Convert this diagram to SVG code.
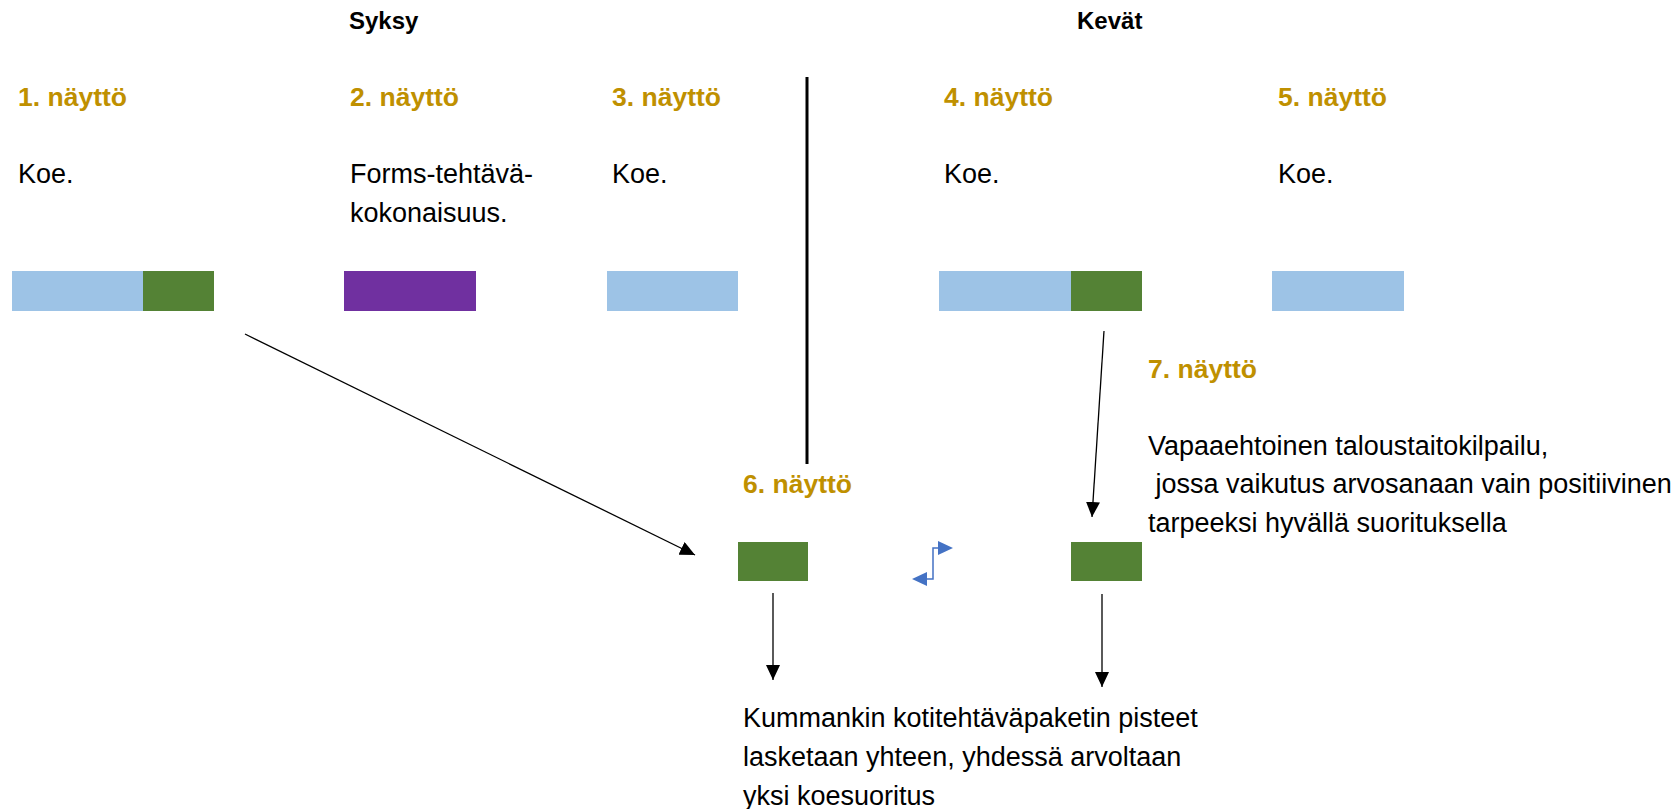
<svg xmlns="http://www.w3.org/2000/svg" width="1675" height="809" viewBox="0 0 1675 809">
<style>
text{font-family:"Liberation Sans",Arial,sans-serif;}
.hdr{font-size:24px;font-weight:bold;fill:#000;}
.lbl{font-size:26.5px;font-weight:bold;fill:#BF9000;}
.txt{font-size:27px;fill:#000;}
.lb{fill:#9DC3E6;}
.gr{fill:#548235;}
.pu{fill:#7030A0;}
.conn{stroke:#000;stroke-width:1.3;fill:none;}
</style>
<defs>
<marker id="ah" viewBox="0 0 10 10" refX="10" refY="5" markerWidth="15" markerHeight="14" markerUnits="userSpaceOnUse" orient="auto" preserveAspectRatio="none">
<path d="M0,0 L10,5 L0,10 Z" fill="#000"/>
</marker>
</defs>
<rect width="1675" height="809" fill="#fff"/>
<g id="headers">
<text class="hdr" x="349" y="29">Syksy</text>
<text class="hdr" x="1077" y="29">Kevät</text>
</g>
<line x1="807" y1="77" x2="807" y2="464" stroke="#000" stroke-width="3"/>
<g id="node1">
<text class="lbl" x="18" y="106">1. näyttö</text>
<text class="txt" x="18" y="183">Koe.</text>
<rect class="lb" x="12" y="271" width="131" height="40"/>
<rect class="gr" x="143" y="271" width="71" height="40"/>
</g>
<g id="node2">
<text class="lbl" x="350" y="106">2. näyttö</text>
<text class="txt" x="350" y="183">Forms-tehtävä-</text>
<text class="txt" x="350" y="222">kokonaisuus.</text>
<rect class="pu" x="344" y="271" width="132" height="40"/>
</g>
<g id="node3">
<text class="lbl" x="612" y="106">3. näyttö</text>
<text class="txt" x="612" y="183">Koe.</text>
<rect class="lb" x="607" y="271" width="131" height="40"/>
</g>
<g id="node4">
<text class="lbl" x="944" y="106">4. näyttö</text>
<text class="txt" x="944" y="183">Koe.</text>
<rect class="lb" x="939" y="271" width="132" height="40"/>
<rect class="gr" x="1071" y="271" width="71" height="40"/>
</g>
<g id="node5">
<text class="lbl" x="1278" y="106">5. näyttö</text>
<text class="txt" x="1278" y="183">Koe.</text>
<rect class="lb" x="1272" y="271" width="132" height="40"/>
</g>
<g id="node6">
<text class="lbl" x="743" y="493">6. näyttö</text>
<rect class="gr" x="738" y="542" width="70" height="39"/>
</g>
<g id="node7">
<text class="lbl" x="1148" y="378">7. näyttö</text>
<text class="txt" x="1148" y="455">Vapaaehtoinen taloustaitokilpailu,</text>
<text class="txt" x="1148" y="493" xml:space="preserve"> jossa vaikutus arvosanaan vain positiivinen</text>
<text class="txt" x="1148" y="532">tarpeeksi hyvällä suorituksella</text>
<rect class="gr" x="1071" y="542" width="71" height="39"/>
</g>
<g id="result">
<text class="txt" x="743" y="727">Kummankin kotitehtäväpaketin pisteet</text>
<text class="txt" x="743" y="766">lasketaan yhteen, yhdessä arvoltaan</text>
<text class="txt" x="743" y="805">yksi koesuoritus</text>
</g>
<g id="connectors">
<line class="conn" x1="245" y1="334" x2="695" y2="555" marker-end="url(#ah)"/>
<line class="conn" x1="1104" y1="331" x2="1092" y2="517" marker-end="url(#ah)"/>
<line class="conn" x1="773" y1="593" x2="773" y2="680" marker-end="url(#ah)"/>
<line class="conn" x1="1102" y1="594" x2="1102" y2="687" marker-end="url(#ah)"/>
<polyline points="938,548 933,548 933,579 927,579" fill="none" stroke="#4472C4" stroke-width="1.5"/>
<path d="M938,541 L953,548 L938,555 Z" fill="#4472C4"/>
<path d="M927,572 L912,579 L927,586 Z" fill="#4472C4"/>
</g>
</svg>
